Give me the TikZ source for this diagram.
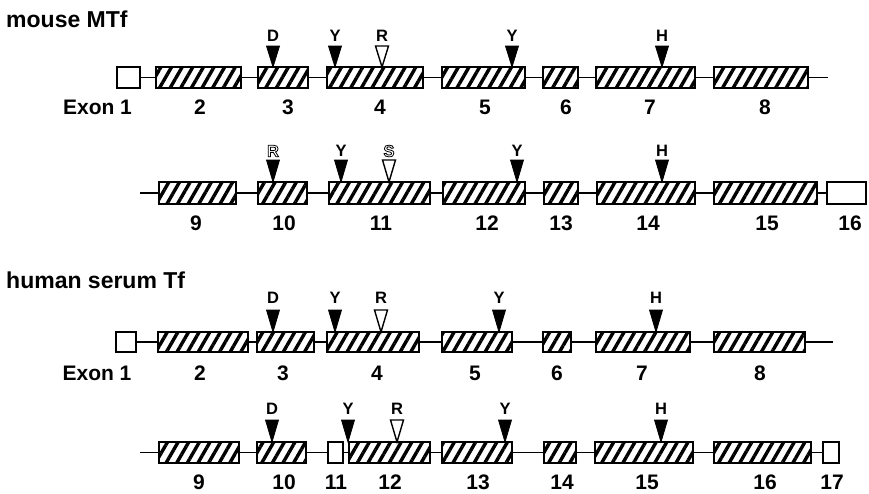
\documentclass[tikz,border=0pt]{standalone}
\usepackage{fontspec}
\setmainfont{Liberation Sans}
\usetikzlibrary{patterns.meta}
\newcommand\outl[1]{\special{pdf:literal direct 1 Tr 0.8 w}#1\special{pdf:literal direct 0 Tr}}
\tikzset{
  exon/.style={draw, line width=2pt, inner sep=0pt, outer sep=0pt, rectangle,
    pattern={Lines[angle=60,distance=9.2pt,line width=3.4pt]}},
  utr/.style={draw, line width=2pt, inner sep=0pt, outer sep=0pt, rectangle, fill=white},
  intron/.style={line width=1.8pt},
  num/.style={font=\bfseries\fontsize{21}{21}\selectfont, inner sep=0pt},
  ttl/.style={font=\bfseries\fontsize{23}{23}\selectfont, inner sep=0pt, anchor=west},
  aa/.style={font=\bfseries\fontsize{16.5}{16.5}\selectfont, inner sep=0pt},
  solidtri/.style={fill=black, draw=black, line width=0.8pt, line join=miter},
  opentri/.style={fill=white, draw=black, line width=1.4pt, line join=miter},
}
\newcommand\ex[5]{\node[#1, minimum width=#4pt, minimum height=#5pt] (#2) at (#3) {};}
\begin{document}
\begin{tikzpicture}[x=1pt,y=-1pt]
\useasboundingbox (0,0) rectangle (869,493);
\fill[white] (0,0) rectangle (869,493);

% ---------- titles
\node[ttl] (t1) at (6,19) {mouse MTf};
\node[ttl] (t2) at (6,280) {human serum Tf};

% ---------- row 1 : mouse exons 1-8
\coordinate (r1end) at (828,77.5);
\ex{utr}{m1}{128.5,77.5}{23}{21}
\ex{exon}{m2}{198.5,77.5}{85}{21}
\ex{exon}{m3}{283,77.5}{50}{21}
\ex{exon}{m4}{375,77.5}{96}{21}
\ex{exon}{m5}{483.5,77.5}{83}{21}
\ex{exon}{m6}{560.5,77.5}{35}{21}
\ex{exon}{m7}{645.5,77.5}{99}{21}
\ex{exon}{m8}{761,77.5}{94}{21}
\draw[intron] (m1.east)--(m2.west) (m2.east)--(m3.west) (m3.east)--(m4.west)
  (m4.east)--(m5.west) (m5.east)--(m6.west) (m6.east)--(m7.west)
  (m7.east)--(m8.west) (m8.east)--(r1end);
\node[num] (lm1) at (97.5,107.5) {Exon 1};
\foreach \x/\t in {200/2,288/3,380/4,485/5,566/6,650/7,765/8}
  \node[num] (lm\t) at (\x,107.5) {\t};
\foreach \x/\l/\s [count=\i] in {273/D/solidtri,335/Y/solidtri,382/R/opentri,512/Y/solidtri,662/H/solidtri}{
  \node[aa] (ka\i) at (\x,36) {\l};
  \draw[\s] (\x-6.5,46) -- (\x+6.5,46) -- (\x,67) -- cycle;
}

% ---------- row 2 : mouse exons 9-16
\coordinate (r2start) at (140,192.7);
\ex{exon}{m9}{197.5,192.7}{77}{22}
\ex{exon}{m10}{282.5,192.7}{49}{22}
\ex{exon}{m11}{379.5,192.7}{101}{22}
\ex{exon}{m12}{484,192.7}{82}{22}
\ex{exon}{m13}{561,192.7}{34}{22}
\ex{exon}{m14}{646,192.7}{98}{22}
\ex{exon}{m15}{765.5,192.7}{103}{22}
\ex{utr}{m16}{846.5,192.7}{39}{22}
\draw[intron] (r2start)--(m9.west) (m9.east)--(m10.west) (m10.east)--(m11.west)
  (m11.east)--(m12.west) (m12.east)--(m13.west) (m13.east)--(m14.west)
  (m14.east)--(m15.west) (m15.east)--(m16.west);
\foreach \x/\t in {196/9,284/10,381/11,487/12,561/13,648/14,767/15,850/16}
  \node[num] (lm\t) at (\x,223.5) {\t};
\foreach \x/\l/\s [count=\i] in {273/{\outl{R}}/solidtri,341/Y/solidtri,389/{\outl{S}}/opentri,517/Y/solidtri,662/H/solidtri}{
  \node[aa] (kb\i) at (\x,151) {\l};
  \draw[\s] (\x-6.5,160) -- (\x+6.5,160) -- (\x,182) -- cycle;
}

% ---------- row 3 : human exons 1-8
\coordinate (r3end) at (833,342);
\ex{utr}{h1}{126,342}{20}{20}
\ex{exon}{h2}{203,342}{90}{20}
\ex{exon}{h3}{285.5,342}{57}{20}
\ex{exon}{h4}{373,342}{92}{20}
\ex{exon}{h5}{477,342}{70}{20}
\ex{exon}{h6}{557,342}{28}{20}
\ex{exon}{h7}{643,342}{94}{20}
\ex{exon}{h8}{759.5,342}{91}{20}
\draw[intron] (h1.east)--(h2.west) (h2.east)--(h3.west) (h3.east)--(h4.west)
  (h4.east)--(h5.west) (h5.east)--(h6.west) (h6.east)--(h7.west)
  (h7.east)--(h8.west) (h8.east)--(r3end);
\node[num] (lh1) at (97,373) {Exon 1};
\foreach \x/\t in {200/2,283/3,377/4,475/5,557/6,642/7,760/8}
  \node[num] (lh\t) at (\x,373) {\t};
\foreach \x/\l/\s [count=\i] in {273/D/solidtri,335/Y/solidtri,381/R/opentri,499/Y/solidtri,656/H/solidtri}{
  \node[aa] (kc\i) at (\x,298) {\l};
  \draw[\s] (\x-6.5,310) -- (\x+6.5,310) -- (\x,332) -- cycle;
}

% ---------- row 4 : human exons 9-17
\coordinate (r4start) at (140,452.5);
\ex{exon}{h9}{199,452.5}{80}{21}
\ex{exon}{h10}{281.5,452.5}{49}{21}
\ex{utr}{h11}{335.5,452.5}{15}{21}
\ex{exon}{h12}{389.5,452.5}{81}{21}
\ex{exon}{h13}{477,452.5}{70}{21}
\ex{exon}{h14}{560,452.5}{32}{21}
\ex{exon}{h15}{644,452.5}{98}{21}
\ex{exon}{h16}{762.5,452.5}{97}{21}
\ex{utr}{h17}{831,452.5}{16}{21}
\draw[intron] (r4start)--(h9.west) (h9.east)--(h10.west) (h10.east)--(h11.west)
  (h11.east)--(h12.west) (h12.east)--(h13.west) (h13.east)--(h14.west)
  (h14.east)--(h15.west) (h15.east)--(h16.west) (h16.east)--(h17.west);
\foreach \x/\t in {199/9,284/10,336/11,390/12,478/13,562/14,647/15,765/16,832/17}
  \node[num] (lh\t) at (\x,482.5) {\t};
\foreach \x/\l/\s [count=\i] in {272/D/solidtri,348/Y/solidtri,397/R/opentri,505/Y/solidtri,661/H/solidtri}{
  \node[aa] (kd\i) at (\x,409) {\l};
  \draw[\s] (\x-6.5,420) -- (\x+6.5,420) -- (\x,442) -- cycle;
}
\end{tikzpicture}
\end{document}
